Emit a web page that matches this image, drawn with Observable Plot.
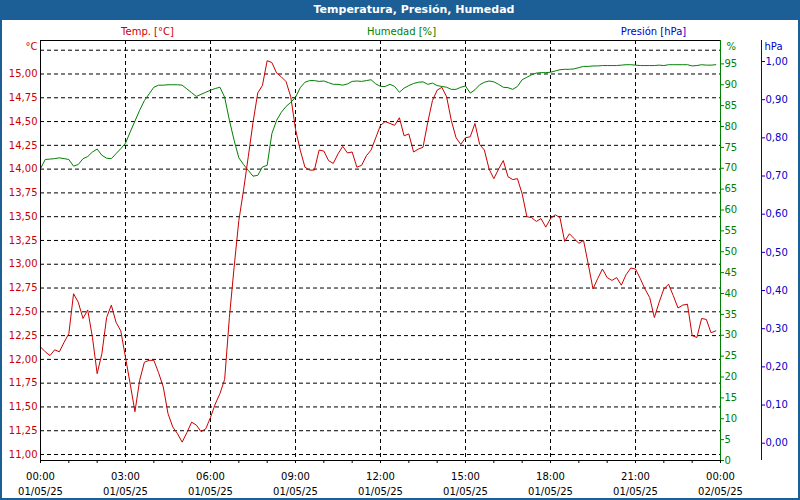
<!DOCTYPE html>
<html><head><meta charset="utf-8">
<script src="https://cdn.jsdelivr.net/npm/d3@7"></script>
<script src="https://cdn.jsdelivr.net/npm/@observablehq/plot@0.6"></script>
<style>
html,body{margin:0;padding:0;background:#fff;}
#win{position:relative;width:800px;height:500px;overflow:hidden;background:#fff;font-family:"DejaVu Sans",sans-serif;}
#bar{position:absolute;left:0;top:0;width:800px;height:20px;background:#1c5e96;color:#fff;font:bold 11px "DejaVu Sans",sans-serif;line-height:20px;text-align:center;padding-left:28px;box-sizing:border-box;}
#frame{position:absolute;left:0;top:0;width:800px;height:500px;box-sizing:border-box;border:2px solid #1c5e96;border-top:none;pointer-events:none;}
#chart{position:absolute;left:0;top:20px;}
</style></head>
<body>
<div id="win">
  <div id="bar">Temperatura, Presión, Humedad</div>
  <div id="chart"></div>
  <div id="frame"></div>
</div>
<script>
// ---- data (10-minute samples starting 01/05/25 00:00) ----
const stepMin = 10;
const temps = [12.13,12.08,12.04,12.10,12.08,12.18,12.27,12.69,12.60,12.43,12.52,12.23,11.85,12.06,12.44,12.57,12.39,12.30,12.02,11.74,
11.45,11.78,11.97,11.99,11.99,11.86,11.71,11.43,11.29,11.22,11.13,11.23,11.34,11.31,11.24,11.27,11.39,11.53,11.64,11.79,
12.44,12.97,13.46,13.78,14.13,14.49,14.80,14.88,15.14,15.12,15.01,14.97,14.92,14.76,14.42,14.20,14.02,13.99,13.99,14.20,
14.19,14.09,14.06,14.16,14.24,14.17,14.18,14.02,14.04,14.14,14.20,14.33,14.46,14.50,14.48,14.46,14.54,14.35,14.37,14.18,
14.21,14.23,14.49,14.72,14.83,14.86,14.76,14.51,14.33,14.26,14.33,14.34,14.48,14.26,14.20,14.00,13.90,14.00,14.09,13.92,
13.89,13.90,13.74,13.50,13.49,13.45,13.48,13.39,13.48,13.52,13.49,13.24,13.32,13.27,13.22,13.25,13.00,12.74,12.85,12.95,
12.86,12.83,12.86,12.78,12.89,12.96,12.95,12.85,12.74,12.65,12.44,12.60,12.74,12.79,12.67,12.54,12.57,12.58,12.25,12.23,
12.43,12.42,12.28,12.30];
const hums = [69.9,72.1,72.2,72.3,72.5,72.3,72.1,70.5,70.9,72.3,72.8,73.9,74.6,73.1,72.4,72.3,73.5,74.7,76.0,78.7,
81.3,83.9,86.2,87.8,89.4,89.9,89.9,90.0,90.0,90.0,89.9,89.0,88.1,87.2,87.7,88.2,88.7,89.1,89.4,87.0,
81.5,76.7,72.5,70.9,69.5,68.1,68.3,70.3,70.7,78.3,81.5,83.4,84.8,85.8,87.0,89.3,90.6,91.0,91.0,90.8,
90.9,90.5,90.1,90.1,89.9,90.2,90.8,90.9,90.8,91.0,91.2,90.2,89.6,89.6,90.1,89.6,88.2,89.2,89.8,90.3,
90.6,90.7,90.1,90.4,89.8,89.6,89.4,88.9,88.9,89.4,89.7,88.0,88.8,90.0,90.6,90.9,90.7,90.1,89.4,89.3,
88.9,89.6,91.2,91.8,92.4,92.8,92.9,92.9,93.0,93.3,93.6,93.7,93.7,93.8,94.1,94.4,94.4,94.5,94.5,94.6,
94.6,94.6,94.6,94.7,94.8,94.8,94.7,94.6,94.6,94.6,94.6,94.7,94.6,94.8,94.8,94.8,94.8,94.8,94.5,94.6,
94.8,94.7,94.7,94.8];

const tempTicks = [11,11.25,11.5,11.75,12,12.25,12.5,12.75,13,13.25,13.5,13.75,14,14.25,14.5,14.75,15,15.25];
const tempTickLabels = [11,11.25,11.5,11.75,12,12.25,12.5,12.75,13,13.25,13.5,13.75,14,14.25,14.5,14.75,15];
const humTicks = [0,5,10,15,20,25,30,35,40,45,50,55,60,65,70,75,80,85,90,95];
const presTicks = [0,0.1,0.2,0.3,0.4,0.5,0.6,0.7,0.8,0.9,1.0];
const hoursAll = d3.range(0, 25);
const hours3 = [0,3,6,9,12,15,18,21,24];
const timeLabels = ["00:00","03:00","06:00","09:00","12:00","15:00","18:00","21:00","00:00"];
const dateLabels = ["01/05/25","01/05/25","01/05/25","01/05/25","01/05/25","01/05/25","01/05/25","01/05/25","02/05/25"];
const gridHours = [3,6,9,12,15,18,21];

// ---- styling ----
const RED = "#cc0000", GREEN = "#008000", BLUE = "#0000cc";
const yDom = [10.937, 15.352];
const humToT = d3.scaleLinear([0, 100.6], yDom);
const presToT = d3.scaleLinear([-0.0453, 1.055], yDom);
const comma2 = v => v.toFixed(2).replace(".", ",");

const rows = temps.map((t, i) => ({h: i * stepMin / 60, t, hum: hums[i]}));

const chart = Plot.plot({
  width: 800, height: 480,
  marginTop: 20, marginBottom: 40, marginLeft: 40, marginRight: 80,
  style: {fontFamily: "DejaVu Sans, sans-serif", fontSize: "10px", background: "transparent", overflow: "visible"},
  x: {domain: [0, 24]},
  y: {domain: yDom},
  marks: [
    Plot.ruleY(tempTicks, {stroke: "#000", strokeDasharray: "4,3"}),
    Plot.ruleX(gridHours, {stroke: "#000", strokeDasharray: "4,3"}),
    Plot.lineY(rows, {x: "h", y: d => humToT(d.hum), stroke: GREEN, strokeWidth: 1}),
    Plot.lineY(rows, {x: "h", y: "t", stroke: RED, strokeWidth: 1}),
    Plot.ruleX([0], {stroke: "#000"}),
    Plot.ruleY([yDom[0]], {stroke: "#000"}),
    Plot.ruleY([yDom[1]], {stroke: "#000", x2: 24}),
    Plot.ruleX([24], {stroke: GREEN}),
    Plot.ruleX([24], {stroke: BLUE, dx: 41}),
    Plot.axisY(tempTickLabels, {anchor: "left", tickSize: 0, tickPadding: 3, tickFormat: comma2, color: RED, label: null}),
    Plot.axisY(humTicks.map(h => humToT(h)), {anchor: "right", tickSize: 3, tickPadding: 1, color: GREEN, label: null,
      tickFormat: t => String(Math.round(humToT.invert(t)))}),
    Plot.axisY(presTicks.map(p => presToT(p)), {anchor: "right", dx: 41, tickSize: 3, tickPadding: 1, color: BLUE, label: null,
      tickFormat: t => comma2(Math.round(presToT.invert(t) * 10) / 10)}),
    Plot.axisX(hoursAll, {tickSize: 3, tickFormat: () => "", label: null}),
    Plot.axisX(hours3, {tickSize: 0, tickPadding: 9, lineHeight: 1.5, label: null, fill: "#000",
      tickFormat: h => timeLabels[hours3.indexOf(h)] + "\n" + dateLabels[hours3.indexOf(h)]}),
    Plot.text(["°C"], {frameAnchor: "top-left", lineAnchor: "middle", text: d => d, dx: -3, dy: 6, textAnchor: "end", fill: RED}),
    Plot.text(["%"], {frameAnchor: "top-right", lineAnchor: "middle", text: d => d, dx: 6, dy: 6, textAnchor: "start", fill: GREEN}),
    Plot.text(["hPa"], {frameAnchor: "top-right", lineAnchor: "middle", text: d => d, dx: 44, dy: 6, textAnchor: "start", fill: BLUE}),
    Plot.text(["Temp. [°C]"], {frameAnchor: "top-left", lineAnchor: "middle", text: d => d, dx: 107, dy: -9, textAnchor: "middle", fill: RED}),
    Plot.text(["Humedad [%]"], {frameAnchor: "top-left", lineAnchor: "middle", text: d => d, dx: 361, dy: -9, textAnchor: "middle", fill: GREEN}),
    Plot.text(["Presión [hPa]"], {frameAnchor: "top-left", lineAnchor: "middle", text: d => d, dx: 613, dy: -9, textAnchor: "middle", fill: BLUE})
  ]
});
document.getElementById("chart").appendChild(chart);
</script>
</body></html>
